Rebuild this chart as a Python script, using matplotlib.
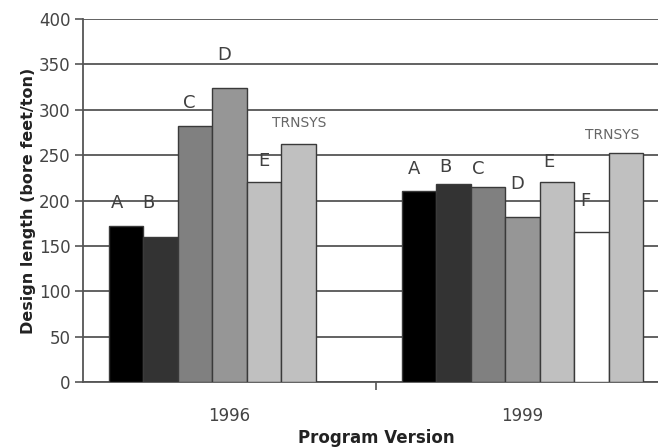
import numpy as np
import matplotlib
matplotlib.use("Agg")
import matplotlib.pyplot as plt

plt.rcParams['font.family'] = ['DejaVu Sans']

# data
years = ['1996', '1999']
labels_1996 = ['A', 'B', 'C', 'D', 'E', 'TRNSYS']
values_1996 = [172, 160, 282, 324, 220, 262]
labels_1999 = ['A', 'B', 'C', 'D', 'E', 'F', 'TRNSYS']
values_1999 = [211, 218, 215, 182, 220, 165, 252]

colors = {'A': '#000000', 'B': '#333333', 'C': '#808080', 'D': '#969696',
          'E': '#c0c0c0', 'F': '#ffffff', 'TRNSYS': '#c0c0c0'}
# label nudges in pixels (dx, dy above bar top)
dx_1996 = [-9, -12, -6, -5, 0, 1]
dy_1996 = [23, 34, 23, 33, 21, 21]
dx_1999 = [-5, -8, -10, -5, -8, -6, -14]
dy_1999 = [22, 17, 18, 33, 20, 31, 18]

fig = plt.figure(figsize=(6.58, 4.48), dpi=100)
ax = fig.add_axes([83/658, 1-382/448, 586/658, 363/448])

w = 0.1175
groups = [(labels_1996, values_1996, dx_1996, dy_1996),
          (labels_1999, values_1999, dx_1999, dy_1999)]
for g, (labs, vals, dxs, dys) in enumerate(groups):
    for i, (lab, v) in enumerate(zip(labs, vals)):
        x = g + (i - 3) * w
        ax.bar(x, v, width=w, color=colors[lab], edgecolor='#3a3a3a',
               linewidth=1.0, zorder=3)
        small = lab == 'TRNSYS'
        ax.annotate(lab, (x, v), xytext=(dxs[i], dys[i]),
                    textcoords='offset pixels', ha='center', va='center',
                    fontsize=10 if small else 13,
                    color='#666666' if small else '#404040', zorder=4)

ax.set_xlim(-0.5, 1.5)
ax.set_ylim(0, 400)
ax.set_yticks(np.arange(0, 401, 50))
ax.yaxis.grid(True, color='#555555', linewidth=1.3, zorder=0)
ax.set_axisbelow(True)

ax.set_xticks([0, 1])
ax.set_xticklabels(years)
ax.set_xticks([0.5], minor=True)
ax.tick_params(axis='x', which='major', length=0, pad=18, labelsize=12,
               labelcolor='#444444')
ax.tick_params(axis='x', which='minor', length=6, width=1.2, color='#555555')
ax.tick_params(axis='y', length=6, width=1.2, color='#555555', pad=3,
               labelsize=12, labelcolor='#444444')

for s in ['top', 'right']:
    ax.spines[s].set_visible(False)
for s in ['left', 'bottom']:
    ax.spines[s].set_color('#555555')
    ax.spines[s].set_linewidth(1.3)

ax.set_ylabel('Design length (bore feet/ton)', fontsize=11.5,
              fontweight='bold', color='#222222', labelpad=2)
ax.set_xlabel('Program Version', fontsize=12, fontweight='bold',
              color='#222222', labelpad=3)

fig.savefig('out.png', dpi=100)
